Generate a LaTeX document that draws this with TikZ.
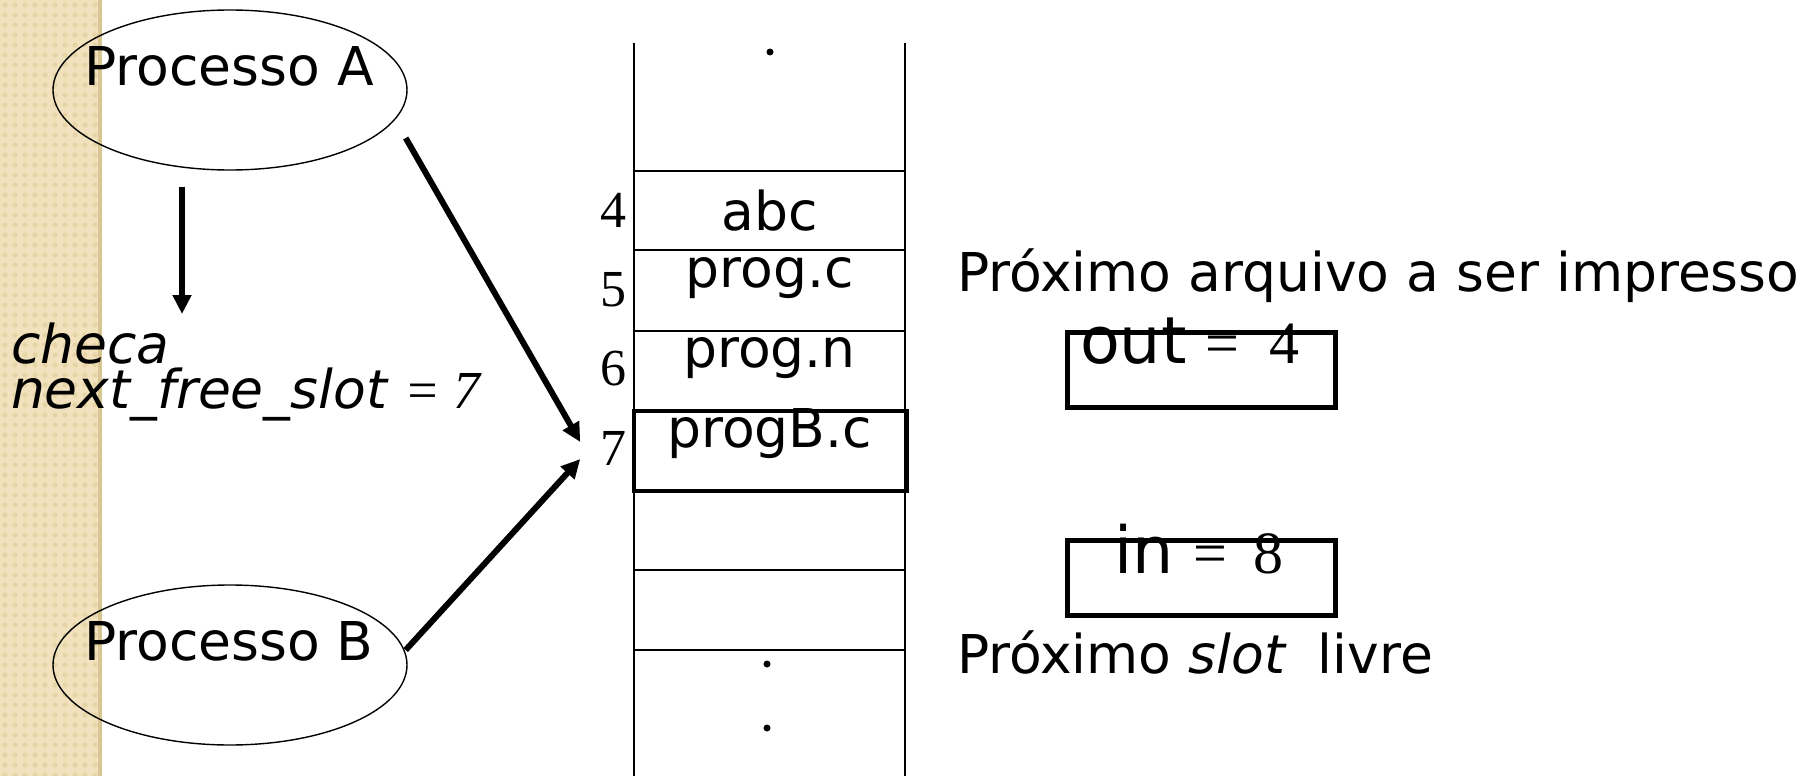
\documentclass[tikz,border=0pt]{standalone}
\usepackage{fontspec}
\setmainfont{DejaVu Sans}
\newfontfamily\serifnum{Liberation Serif}
\usetikzlibrary{shapes.geometric,arrows.meta}
\definecolor{stripbase}{HTML}{F1E2BD}
\definecolor{stripdot}{HTML}{E6D4A6}
\definecolor{stripedge}{HTML}{D8C692}
\tikzset{
  txt/.style={inner sep=0pt, outer sep=0pt, font=\fontsize{53.5}{55}\selectfont},
  proc/.style={ellipse, draw, line width=1.4pt, minimum width=354pt, minimum height=160pt, inner sep=0pt},
  bigarrow/.style={line width=6pt, -{Triangle[length=19pt,width=18pt]}},
  tablefine/.style={line width=2pt},
  varbox/.style={draw, line width=5pt, minimum width=268pt, minimum height=75pt, inner sep=0pt},
  slotrow/.style={minimum width=271pt, minimum height=80pt, inner sep=0pt},
  dotmark/.style={circle, fill, inner sep=0pt, minimum size=7pt},
  numlab/.style={txt, anchor=base east, font=\serifnum\fontsize{52}{54}\selectfont}
}
\begin{document}
\begin{tikzpicture}[x=1pt,y=-1pt]
\useasboundingbox (0,0) rectangle (1804,776);
\fill[white] (0,0) rectangle (1804,776);
% textured strip on the left
\fill[stripbase] (0,0) rectangle (102,776);
\foreach \i in {0,...,9}{
  \foreach \j in {0,...,77}{
    \fill[stripdot] (\i*10+5,\j*10+5) circle (2.6);
  }
}
\fill[stripedge] (98,0) rectangle (102,776);

% processes
\node[proc] (A) at (230,90) {};
\node[txt, anchor=base] (Atxt) at (229,85) {Processo A};
\node[proc] (B) at (230,665) {};
\node[txt, anchor=base] (Btxt) at (229,660) {Processo B};

% check text (two lines; base anchor = last line)
\node[txt, anchor=base west, align=left, font=\fontsize{53.5}{45}\selectfont] (chk) at (11,408)
  {\itshape checa\\\itshape next\_free\_slot {\serifnum = 7}};

% table
\draw[tablefine] (634,43) -- (634,776);
\draw[tablefine] (905,43) -- (905,776);
\foreach \yy in {171,250,331,570,650}{
  \draw[tablefine] (634,\yy) -- (905,\yy);
}
\node[slotrow] (s4) at (769.5,210.5) {};
\node[slotrow] (s5) at (769.5,290.5) {};
\node[slotrow] (s6) at (769.5,371) {};
\node[slotrow, draw, line width=3.5pt, minimum width=273pt] (s7) at (770.5,451) {};
\node[txt, anchor=base] (t4) at (769.5,230) {abc};
\node[txt, anchor=base] (t5) at (769.5,287) {prog.c};
\node[txt, anchor=base] (t6) at (769.5,367) {prog.n};
\node[txt, anchor=base] (t7) at (769.5,447) {progB.c};
\node[numlab] (n4) at (626,227) {4};
\node[numlab] (n5) at (626,306) {5};
\node[numlab] (n6) at (626,385) {6};
\node[numlab] (n7) at (626,465) {7};
\node[dotmark] (d1) at (770,52) {};
\node[dotmark] (d2) at (767,664) {};
\node[dotmark] (d3) at (767,728) {};

% arrows
\coordinate (chkend) at (182,314);
\draw[bigarrow] ([xshift=-48pt,yshift=-16pt]A.south) -- (chkend);
\draw[bigarrow] ([xshift=-2pt,yshift=-48pt]A.east) -- ([xshift=-52pt,yshift=9pt]s7.west);
\draw[bigarrow] ([xshift=-2pt,yshift=15pt]B.east) -- ([xshift=-52pt,yshift=-8pt]s7.west);

% right side
\node[txt, anchor=base west] (prox1) at (957,291) {Próximo arquivo a ser impresso};
\node[varbox] (outbox) at (1201.5,370) {};
\node[txt, anchor=base west, font=\fontsize{65}{65}\selectfont] (outtxt) at (1080,363) {out};
\node[txt, anchor=base west, font=\serifnum\fontsize{60}{60}\selectfont] (outval) at (1205,363) {=\hspace{31pt}4};
\node[varbox] (inbox) at (1201.5,578) {};
\node[txt, anchor=base west, font=\fontsize{65}{65}\selectfont] (intxt) at (1114,573) {in};
\node[txt, anchor=base west, font=\serifnum\fontsize{60}{60}\selectfont] (inval) at (1193,573) {=\hspace{27pt}8};
\node[txt, anchor=base west] (prox2) at (957,673) {Próximo \textit{slot}\hspace{14pt} livre};
\end{tikzpicture}
\end{document}
